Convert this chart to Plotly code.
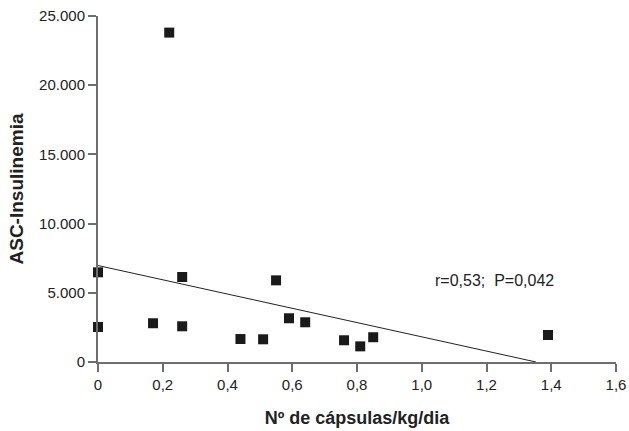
import plotly.graph_objects as go

# Data
x_vals = [0.0, 0.0, 0.17, 0.22, 0.26, 0.26, 0.44, 0.51, 0.55, 0.59, 0.64, 0.76, 0.81, 0.85, 1.39]
y_vals = [6480, 2530, 2800, 23800, 6140, 2580, 1660, 1640, 5900, 3160, 2870, 1570, 1130, 1790, 1950]

# Regression line endpoints
line_x = [0.0, 1.353]
line_y = [6970, 0]

x_ticks = [0, 0.2, 0.4, 0.6, 0.8, 1.0, 1.2, 1.4, 1.6]
x_ticktext = ["0", "0,2", "0,4", "0,6", "0,8", "1,0", "1,2", "1,4", "1,6"]
y_ticks = [0, 5000, 10000, 15000, 20000, 25000]
y_ticktext = ["0", "5.000", "10.000", "15.000", "20.000", "25.000"]

annotation_text = "r=0,53;  P=0,042"

font_family = "Liberation Sans, Arial, sans-serif"
axis_grey = "#6e6e6e"

fig = go.Figure()
fig.add_trace(go.Scatter(
    x=line_x, y=line_y, mode="lines",
    line=dict(color="#222222", width=1),
    showlegend=False, hoverinfo="skip", cliponaxis=False,
))
fig.add_trace(go.Scatter(
    x=x_vals, y=y_vals, mode="markers",
    marker=dict(symbol="square", size=10, color="#1a1a1a"),
    showlegend=False, cliponaxis=False,
))

fig.add_annotation(
    x=1.035, y=5900, xref="x", yref="y", text=annotation_text,
    showarrow=False, xanchor="left", yanchor="middle",
    font=dict(family=font_family, size=16, color="#222222"),
)

fig.update_layout(
    width=629, height=431,
    margin=dict(l=98, r=13, t=16, b=69),
    plot_bgcolor="white", paper_bgcolor="white",
    font=dict(family=font_family, size=15, color="#222222"),
)
fig.update_xaxes(
    range=[0, 1.6], tickvals=x_ticks, ticktext=x_ticktext,
    automargin=False,
    showline=True, linecolor=axis_grey, linewidth=2,
    ticks="outside", ticklen=8, tickcolor=axis_grey, tickwidth=1.5,
    showgrid=False, zeroline=False,
    tickfont=dict(size=15, color="#222222"),
    title=dict(text="<b>Nº de cápsulas/kg/dia</b>", standoff=19,
               font=dict(size=18, color="#222222")),
)
fig.update_yaxes(
    range=[0, 25000], tickvals=y_ticks, ticktext=y_ticktext,
    automargin=False,
    showline=True, linecolor=axis_grey, linewidth=2,
    ticks="outside", ticklen=8, tickcolor=axis_grey, tickwidth=1.5,
    showgrid=False, zeroline=False,
    tickfont=dict(size=15, color="#222222"),
    title=dict(text="<b>ASC-Insulinemia</b>", standoff=10,
               font=dict(size=19, color="#222222")),
)

fig.write_html("out.html")
